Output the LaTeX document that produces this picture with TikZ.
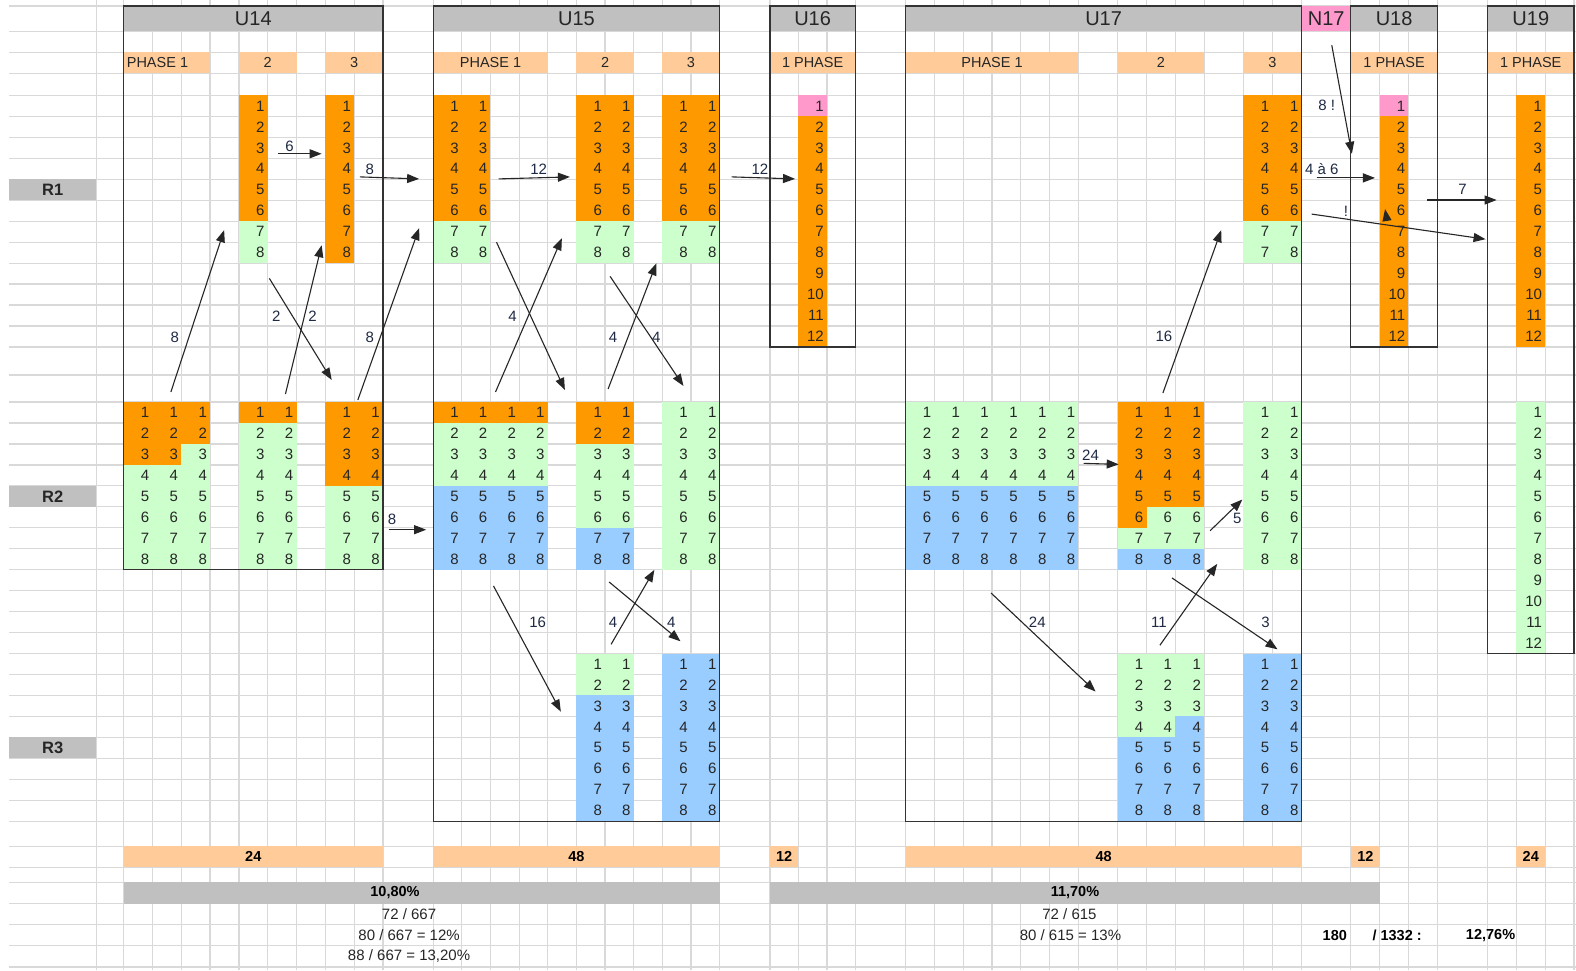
\documentclass[tikz,border=0pt]{standalone}
\usepackage{fontspec}
\setmainfont{Liberation Sans}
\usetikzlibrary{arrows.meta}
\definecolor{hdr}{HTML}{C0C0C0}
\definecolor{peach}{HTML}{FFCC99}
\definecolor{org}{HTML}{FF9900}
\definecolor{grn}{HTML}{CCFFCC}
\definecolor{blu}{HTML}{99CCFF}
\definecolor{pnk}{HTML}{FF99CC}
\definecolor{gridc}{HTML}{D9D9D9}
\definecolor{txt}{HTML}{262626}
\definecolor{lbl}{HTML}{1F2A44}
\def\rh{20.85}
% fill: xl, xr, top, first row, last row, colour
\newcommand\fc[6]{\fill[#6] (#1,{#3+(#4-1)*\rh}) rectangle (#2,{#3+#5*\rh});}
% numbers: id, right edge, top, first, last
\newcommand\nc[5]{\foreach \i in {#4,...,#5}{\node[num] (#1-\i) at ({#2-3},{#3+(\i-0.5)*\rh}) {\i};}}
\begin{document}
\begin{tikzpicture}[x=1.0051pt,y=-1.0051pt,
  gridl/.style={draw=gridc, line width=1.2pt},
  boxl/.style={draw=black!80, line width=1.2pt},
  num/.style={anchor=east, inner sep=0, text=txt, font=\fontsize{15}{15}\selectfont},
  ttl/.style={inner sep=0, text=txt, font=\fontsize{20}{20}\selectfont},
  phs/.style={inner sep=0, text=txt, font=\fontsize{14.5}{14.5}\selectfont},
  lab/.style={inner sep=0, text=lbl, font=\fontsize{15}{15}\selectfont},
  bld/.style={inner sep=0, text=black, font=\bfseries\fontsize{14.5}{14.5}\selectfont},
  rlab/.style={inner sep=0, text=txt, font=\bfseries\fontsize{16.5}{16.5}\selectfont},
  reg/.style={inner sep=0, text=txt, font=\fontsize{15}{15}\selectfont},
  arr/.style={-{Triangle[length=12pt,width=9pt]}, line width=1.1pt, draw=black!85},
]
\useasboundingbox (0,0) rectangle (1568,965.1);
\fill[white] (0,0) rectangle (1568,965.1);

% ---------- grid ----------
\foreach \yy in {6,31,52,73,95,373,400,842,863,878,899,920,941,962}
  \draw[gridl] (9,\yy) -- (1568,\yy);
\foreach \k in {1,...,12} \draw[gridl] (9,{95+\k*\rh}) -- (1568,{95+\k*\rh});
\foreach \k in {1,...,20} \draw[gridl] (9,{400+\k*\rh}) -- (1568,{400+\k*\rh});
\foreach \xx in {96,123,151.7,180.3,209,237.7,266.3,295,323.7,352.3,381,
  431,459.5,488,516.5,545,573.5,602,630.5,659,687.5,716,766,794.3,822.7,851,
  901,929.7,958.3,987,1015.7,1044.3,1073,1112,1140.7,1169.3,1198,1237,1266,1295,
  1344,1372.7,1401.3,1430,1480,1508.7,1537.3,1566}
  \draw[gridl] (\xx,0) -- (\xx,965.1);

% ---------- titles ----------
\fill[hdr] (123,6) rectangle (381,31);
\fill[hdr] (431,6) rectangle (716,31);
\fill[hdr] (766,6) rectangle (851,31);
\fill[hdr] (901,6) rectangle (1295,31);
\fill[pnk] (1295,6) rectangle (1344,31);
\fill[hdr] (1344,6) rectangle (1430,31);
\fill[hdr] (1480,6) rectangle (1566,31);

% ---------- phase bars ----------
\fill[peach] (123,52) rectangle (209,73);
\fill[peach] (237.7,52) rectangle (295,73);
\fill[peach] (323.7,52) rectangle (381,73);
\fill[peach] (431,52) rectangle (545,73);
\fill[peach] (573.5,52) rectangle (630.5,73);
\fill[peach] (659,52) rectangle (716,73);
\fill[peach] (766,52) rectangle (851,73);
\fill[peach] (901,52) rectangle (1073,73);
\fill[peach] (1112,52) rectangle (1198,73);
\fill[peach] (1237,52) rectangle (1295,73);
\fill[peach] (1344,52) rectangle (1430,73);
\fill[peach] (1480,52) rectangle (1566,73);

% ---------- row labels ----------
\fill[hdr] (9,{95+4*\rh}) rectangle (96,{95+5*\rh});
\fill[hdr] (9,{400+4*\rh}) rectangle (96,{400+5*\rh});
\fill[hdr] (9,{650.2+4*\rh}) rectangle (96,{650.2+5*\rh});

% ---------- cell fills ----------
% U14 R1
\fc{237.7}{266.3}{95}{1}{6}{org} \fc{237.7}{266.3}{95}{7}{8}{grn}
\fc{323.7}{352.3}{95}{1}{8}{org}
% U14 R2
\fc{123}{209}{400}{1}{2}{org} \fc{123}{180.3}{400}{3}{3}{org} \fc{180.3}{209}{400}{3}{3}{grn}
\fc{123}{209}{400}{4}{8}{grn}
\fc{237.7}{295}{400}{1}{1}{org} \fc{237.7}{295}{400}{2}{8}{grn}
\fc{323.7}{381}{400}{1}{4}{org} \fc{323.7}{381}{400}{5}{8}{grn}
% U15 R1
\fc{431}{488}{95}{1}{6}{org} \fc{431}{488}{95}{7}{8}{grn}
\fc{573.5}{630.5}{95}{1}{6}{org} \fc{573.5}{630.5}{95}{7}{8}{grn}
\fc{659}{716}{95}{1}{6}{org} \fc{659}{716}{95}{7}{8}{grn}
% U15 R2
\fc{431}{545}{400}{1}{1}{org} \fc{431}{545}{400}{2}{4}{grn} \fc{431}{545}{400}{5}{8}{blu}
\fc{573.5}{630.5}{400}{1}{2}{org} \fc{573.5}{630.5}{400}{3}{6}{grn} \fc{573.5}{630.5}{400}{7}{8}{blu}
\fc{659}{716}{400}{1}{8}{grn}
% U15 R3
\fc{573.5}{630.5}{650.2}{1}{2}{grn} \fc{573.5}{630.5}{650.2}{3}{8}{blu}
\fc{659}{716}{650.2}{1}{8}{blu}
% U16 R1
\fc{794.3}{822.7}{95}{1}{1}{pnk} \fc{794.3}{822.7}{95}{2}{12}{org}
% U17 R1
\fc{1237}{1295}{95}{1}{6}{org} \fc{1237}{1295}{95}{7}{8}{grn}
% U17 R2
\fc{901}{1073}{400}{1}{4}{grn} \fc{901}{1073}{400}{5}{8}{blu}
\fc{1112}{1198}{400}{1}{5}{org} \fc{1112}{1140.7}{400}{6}{6}{org} \fc{1140.7}{1198}{400}{6}{6}{grn}
\fc{1112}{1198}{400}{7}{7}{grn} \fc{1112}{1198}{400}{8}{8}{blu}
\fc{1237}{1295}{400}{1}{8}{grn}
% U17 R3
\fc{1112}{1198}{650.2}{1}{3}{grn} \fc{1112}{1169.3}{650.2}{4}{4}{grn} \fc{1169.3}{1198}{650.2}{4}{4}{blu}
\fc{1112}{1198}{650.2}{5}{8}{blu}
\fc{1237}{1295}{650.2}{1}{8}{blu}
% U18 R1
\fc{1372.7}{1401.3}{95}{1}{1}{pnk} \fc{1372.7}{1401.3}{95}{2}{12}{org}
% U19
\fc{1508.7}{1537.3}{95}{1}{12}{org}
\fc{1508.7}{1537.3}{400}{1}{12}{grn}

% ---------- bottom bars ----------
\fill[peach] (123,842) rectangle (381,863);
\fill[peach] (431,842) rectangle (716,863);
\fill[peach] (766,842) rectangle (794.3,863);
\fill[peach] (901,842) rectangle (1295,863);
\fill[peach] (1344,842) rectangle (1372.7,863);
\fill[peach] (1508.7,842) rectangle (1537.3,863);
\fill[hdr] (123,878) rectangle (716,899);
\fill[hdr] (766,878) rectangle (1372.7,899);

% ---------- unit boxes ----------
\draw[boxl] (123,6) rectangle (381,{400+8*\rh});
\draw[boxl] (431,6) rectangle (716,{650.2+8*\rh});
\draw[boxl] (766,6) rectangle (851,{95+12*\rh});
\draw[boxl] (901,6) rectangle (1295,{650.2+8*\rh});
\draw[boxl] (1344,6) rectangle (1430,{95+12*\rh});
\draw[boxl] (1480,6) rectangle (1566,{400+12*\rh});

% ---------- title texts ----------
\node[ttl] (tU14) at (252,18.5) {U14};
\node[ttl] (tU15) at (573.5,18.5) {U15};
\node[ttl] (tU16) at (808.5,18.5) {U16};
\node[ttl] (tU17) at (1098,18.5) {U17};
\node[ttl] (tN17) at (1319.5,18.5) {N17};
\node[ttl] (tU18) at (1387,18.5) {U18};
\node[ttl] (tU19) at (1523,18.5) {U19};

\node[phs,anchor=west] (p14a) at (126,62.5) {PHASE 1};
\node[phs] (p14b) at (266.3,62.5) {2};
\node[phs] (p14c) at (352.3,62.5) {3};
\node[phs] (p15a) at (488,62.5) {PHASE 1};
\node[phs] (p15b) at (602,62.5) {2};
\node[phs] (p15c) at (687.5,62.5) {3};
\node[phs] (p16a) at (808.5,62.5) {1 PHASE};
\node[phs] (p17a) at (987,62.5) {PHASE 1};
\node[phs] (p17b) at (1155,62.5) {2};
\node[phs] (p17c) at (1266,62.5) {3};
\node[phs] (p18a) at (1387,62.5) {1 PHASE};
\node[phs] (p19a) at (1523,62.5) {1 PHASE};

\node[rlab] (R1) at (52.5,{95+4.5*\rh}) {R1};
\node[rlab] (R2) at (52.5,{400+4.5*\rh}) {R2};
\node[rlab] (R3) at (52.5,{650.2+4.5*\rh}) {R3};

% ---------- cell numbers ----------
% U14
\nc{a}{266.3}{95}{1}{8} \nc{b}{352.3}{95}{1}{8}
\nc{c}{151.7}{400}{1}{8} \nc{d}{180.3}{400}{1}{8} \nc{e}{209}{400}{1}{8}
\nc{f}{266.3}{400}{1}{8} \nc{g}{295}{400}{1}{8}
\nc{h}{352.3}{400}{1}{8} \nc{i}{381}{400}{1}{8}
% U15
\nc{j}{459.5}{95}{1}{8} \nc{k}{488}{95}{1}{8}
\nc{l}{602}{95}{1}{8} \nc{m}{630.5}{95}{1}{8}
\nc{n}{687.5}{95}{1}{8} \nc{o}{716}{95}{1}{8}
\nc{p}{459.5}{400}{1}{8} \nc{q}{488}{400}{1}{8} \nc{r}{516.5}{400}{1}{8} \nc{s}{545}{400}{1}{8}
\nc{t}{602}{400}{1}{8} \nc{u}{630.5}{400}{1}{8}
\nc{v}{687.5}{400}{1}{8} \nc{w}{716}{400}{1}{8}
\nc{x}{602}{650.2}{1}{8} \nc{y}{630.5}{650.2}{1}{8}
\nc{z}{687.5}{650.2}{1}{8} \nc{aa}{716}{650.2}{1}{8}
% U16
\nc{ab}{822.7}{95}{1}{12}
% U17
\nc{ac}{1266}{95}{1}{7}
\node[num] (ac-8) at (1263,{95+7.5*\rh}) {7};
\nc{ad}{1295}{95}{1}{8}
\nc{ae}{929.7}{400}{1}{8} \nc{af}{958.3}{400}{1}{8} \nc{ag}{987}{400}{1}{8}
\nc{ah}{1015.7}{400}{1}{8} \nc{ai}{1044.3}{400}{1}{8} \nc{aj}{1073}{400}{1}{8}
\nc{ak}{1140.7}{400}{1}{8} \nc{al}{1169.3}{400}{1}{8} \nc{am}{1198}{400}{1}{8}
\nc{an}{1266}{400}{1}{8} \nc{ao}{1295}{400}{1}{8}
\nc{ap}{1140.7}{650.2}{1}{8} \nc{aq}{1169.3}{650.2}{1}{8} \nc{ar}{1198}{650.2}{1}{8}
\nc{as}{1266}{650.2}{1}{8} \nc{at}{1295}{650.2}{1}{8}
% U18, U19
\nc{au}{1401.3}{95}{1}{12}
\nc{av}{1537.3}{95}{1}{12}
\nc{aw}{1537.3}{400}{1}{12}

% ---------- bottom texts ----------
\node[bld] (s14) at (252,852.5) {24};
\node[bld] (s15) at (573.5,852.5) {48};
\node[bld] (s16) at (780.2,852.5) {12};
\node[bld] (s17) at (1098,852.5) {48};
\node[bld] (s18) at (1358.4,852.5) {12};
\node[bld] (s19) at (1523,852.5) {24};
\node[bld] (pc1) at (393,888.5) {10,80\%};
\node[bld] (pc2) at (1069.5,888.5) {11,70\%};
\node[reg] (f1) at (407,909.5) {72 / 667};
\node[reg] (f2) at (407,930.5) {80 / 667 = 12\%};
\node[reg] (f3) at (407,951.5) {88 / 667 = 13,20\%};
\node[reg] (f4) at (1064,909.5) {72 / 615};
\node[reg] (f5) at (1065,930.5) {80 / 615 = 13\%};
\node[bld] (g1) at (1328,930.5) {180};
\node[bld] (g2) at (1390,930.5) {/ 1332 :};
\node[bld] (g3) at (1483,930.5) {12,76\%};

% ---------- arrows ----------
\coordinate (s1) at (277,153);  \coordinate (e1) at (320,153);
\coordinate (s2) at (358,176);  \coordinate (e2) at (417,178);
\coordinate (s3) at (170,390);  \coordinate (e3) at (223,229);
\coordinate (s4) at (284,392);  \coordinate (e4) at (320,244);
\coordinate (s5) at (268,277);  \coordinate (e5) at (330,378);
\coordinate (s6) at (356,398);  \coordinate (e6) at (417,227);
\coordinate (s7) at (387,527);  \coordinate (e7) at (424,527);
\coordinate (s8) at (496,178);  \coordinate (e8) at (567,176);
\coordinate (s9) at (728,176);  \coordinate (e9) at (791,178);
\coordinate (s10) at (494,241); \coordinate (e10) at (562,388);
\coordinate (s11) at (493,390); \coordinate (e11) at (559,237);
\coordinate (s12) at (607,275); \coordinate (e12) at (680,384);
\coordinate (s13) at (605,387); \coordinate (e13) at (653,262);
\coordinate (s14) at (491,583); \coordinate (e14) at (558,708);
\coordinate (s15) at (608,641); \coordinate (e15) at (651,567);
\coordinate (s16) at (606,579); \coordinate (e16) at (677,638);
\coordinate (s17) at (1078,461); \coordinate (e17) at (1113,462);
\coordinate (s18) at (1157,391); \coordinate (e18) at (1215,229);
\coordinate (s19) at (1204,528); \coordinate (e19) at (1236,497);
\coordinate (s20) at (986,590);  \coordinate (e20) at (1090,688);
\coordinate (s21) at (1154,642); \coordinate (e21) at (1211,561);
\coordinate (s22) at (1166,575); \coordinate (e22) at (1271,646);
\coordinate (s23) at (1325,45);  \coordinate (e23) at (1345,153);
\coordinate (s24) at (1310,177); \coordinate (e24) at (1368,177);
\coordinate (s25) at (1305,213); \coordinate (e25) at (1478,238);
\coordinate (s26) at (1420,199); \coordinate (e26) at (1489,199);
\coordinate (s27) at (1380,220); \coordinate (e27) at (1378,208);
\foreach \n in {1,...,27} \draw[arr] (s\n) -- (e\n);

\node[lab] (l1) at (288,146) {6};
\node[lab] (l2) at (368,168) {8};
\node[lab] (l3) at (174,336) {8};
\node[lab] (l4) at (311,315) {2};
\node[lab] (l5) at (275,315) {2};
\node[lab] (l6) at (368,336) {8};
\node[lab] (l7) at (390,517) {8};
\node[lab] (l8) at (536,168) {12};
\node[lab] (l9) at (756,168) {12};
\node[lab] (l11) at (510,315) {4};
\node[lab] (l12) at (653,336) {4};
\node[lab] (l13) at (610,336) {4};
\node[lab] (l14) at (535,619) {16};
\node[lab] (l15) at (610,619) {4};
\node[lab] (l16) at (668,619) {4};
\node[lab] (l17) at (1085,453) {24};
\node[lab] (l18) at (1158,335) {16};
\node[lab] (l19) at (1231,516) {5};
\node[lab] (l20) at (1032,619) {24};
\node[lab] (l21) at (1153,619) {11};
\node[lab] (l22) at (1259,619) {3};
\node[lab] (l23) at (1320,105) {8 !};
\node[lab] (l24) at (1315,168) {4 à 6};
\node[lab] (l25) at (1339,210) {!};
\node[lab] (l26) at (1455,188) {7};
\end{tikzpicture}
\end{document}
